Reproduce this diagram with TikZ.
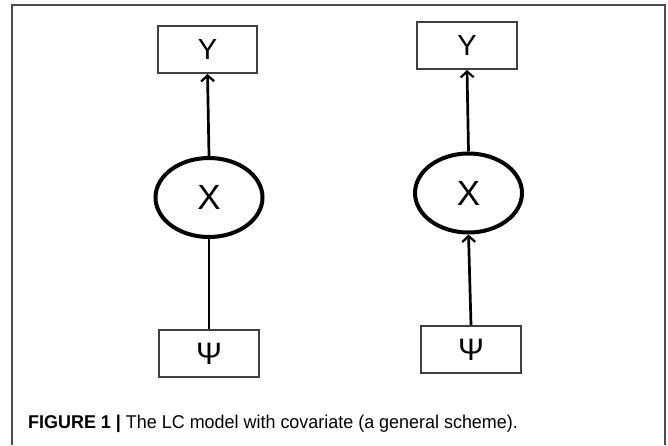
\documentclass[tikz,border=0pt]{standalone}
\usepackage{fontspec}
\setmainfont{Liberation Sans}
\usetikzlibrary{arrows.meta,shapes.geometric}
\tikzset{
  varbox/.style={draw=black!75, line width=1.8pt, minimum width=99pt, minimum height=47pt, inner sep=0pt},
  latent/.style={ellipse, draw=black, line width=4pt, minimum width=107pt, minimum height=79pt, inner sep=0pt},
  conn/.style={draw=black, line width=2.7pt},
  arr/.style={conn, -{Straight Barb[length=6pt,width=13pt,line width=2.2pt]}},
  ytext/.style={font=\fontsize{29}{31}\selectfont},
  xtext/.style={font=\fontsize{35}{37}\selectfont},
  ptext/.style={font=\fontsize{31}{33}\selectfont},
}
\begin{document}
\begin{tikzpicture}[x=1pt,y=-1pt]
\useasboundingbox (0,0) rectangle (668,445);
\fill[white] (0,0) rectangle (668,445);
\draw[black!70, line width=1.8pt] (12,445) -- (12,5) -- (665,5) -- (665,445);
% left model
\node[varbox, ytext, minimum width=99pt] (y1) at (207.5,49.5) {Y};
\node[latent, xtext] (x1) at (209,197.5) {X};
\node[varbox, ptext, minimum width=100pt] (p1) at (209,353.5) {Ψ};
\draw[arr] (x1.north) -- (y1.south);
\draw[conn] (p1.north) -- (x1.south);
% right model
\node[varbox, ytext, minimum width=100pt] (y2) at (467,45.5) {Y};
\node[latent, xtext] (x2) at (468.5,193) {X};
\node[varbox, ptext, minimum width=100pt] (p2) at (471,349.5) {Ψ};
\draw[arr] (x2.north) -- (y2.south);
\draw[arr] (p2.north) -- (x2.south);
% caption
\node[anchor=base west, inner sep=0pt, font=\fontsize{18.5}{20}\selectfont] (cap) at (28,428)
  {\scalebox{0.97}[1]{\textbf{FIGURE 1 |} The LC model with covariate (a general scheme).}};
\end{tikzpicture}
\end{document}
